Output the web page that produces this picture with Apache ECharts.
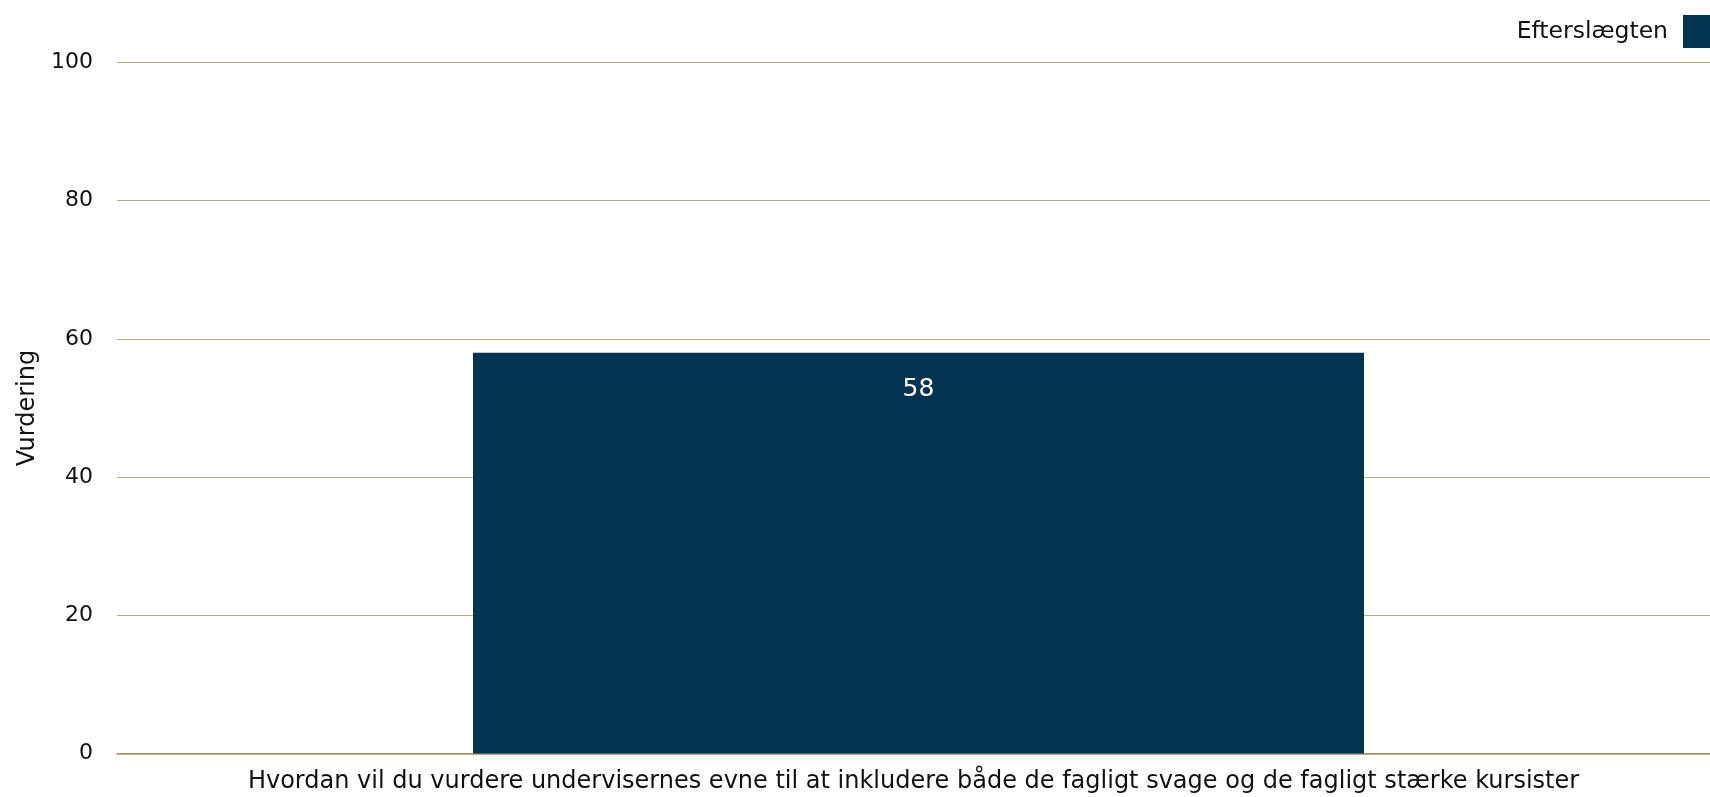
<!DOCTYPE html>
<html><head><meta charset="utf-8">
<script src="https://cdn.jsdelivr.net/npm/echarts@6/dist/echarts.min.js"></script>
<style>html,body{margin:0;padding:0;background:#fff}#c{width:1710px;height:797px}</style>
</head><body><div id="c"></div>
<script>
const categories = ["Hvordan vil du vurdere undervisernes evne til at inkludere både de fagligt svage og de fagligt stærke kursister"];
const seriesName = "Efterslægten";
const values = [58];
const yTicks = [0, 20, 40, 60, 80, 100];

const FONT = "Tahoma, 'DejaVu Sans', sans-serif";
const chart = echarts.init(document.getElementById('c'));
chart.setOption({
  animation: false,
  textStyle: { fontFamily: FONT },
  legend: {
    data: [seriesName],
    right: -14,
    top: 10,
    align: 'right',
    icon: 'rect',
    itemWidth: 36,
    itemHeight: 33,
    itemGap: 10,
    textStyle: { fontSize: 23.5, color: '#111', fontFamily: FONT, padding: [0, 10, 0, 0] }
  },
  grid: [
    { left: 117, right: 0, top: 62.5, bottom: 43.5, containLabel: false },
    { left: 127, right: 0, top: 62.5, bottom: 43.5, containLabel: false }
  ],
  xAxis: [{
    type: 'category',
    gridIndex: 0,
    data: categories,
    axisLine: { show: true, lineStyle: { color: '#a38f5a', width: 1.5 } },
    axisTick: { show: false },
    axisLabel: { fontSize: 24, color: '#111', margin: 16, fontFamily: FONT }
  }, {
    type: 'category',
    gridIndex: 1,
    data: categories,
    show: false
  }],
  yAxis: [{
    type: 'value',
    gridIndex: 0,
    min: 0, max: 100, interval: 20,
    name: 'Vurdering',
    nameLocation: 'middle',
    nameGap: 67,
    nameTextStyle: { fontSize: 24, color: '#111', fontFamily: FONT },
    axisLine: { show: false },
    axisTick: { show: false },
    axisLabel: { fontSize: 22, color: '#111', margin: 24, fontFamily: FONT,
      formatter: v => yTicks.includes(v) ? String(v) : '' },
    splitLine: { lineStyle: { color: '#b5aa84', width: 1.2 } }
  }, {
    type: 'value',
    gridIndex: 1,
    min: 0, max: 100, interval: 20,
    show: false,
    splitLine: { show: false }
  }],
  series: [{
    name: seriesName,
    type: 'bar',
    xAxisIndex: 1,
    yAxisIndex: 1,
    data: values,
    barWidth: 891,
    itemStyle: { color: '#023452' },
    label: { show: true, position: 'insideTop', distance: 24, color: '#fff', fontSize: 25, fontFamily: FONT }
  }]
});
</script></body></html>
